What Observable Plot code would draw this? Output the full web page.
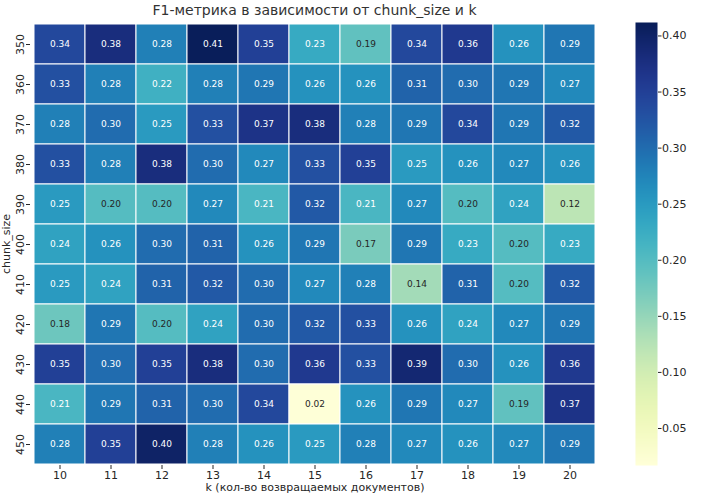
<!DOCTYPE html>
<html><head><meta charset="utf-8">
<script src="https://cdn.jsdelivr.net/npm/d3@7"></script>
<script src="https://cdn.jsdelivr.net/npm/@observablehq/plot@0.6"></script>
<style>
body{margin:0;background:#fff;font-family:"DejaVu Sans",sans-serif;}
#wrap{position:relative;width:706px;height:495px;overflow:hidden;}
#main,#cbar{position:absolute;top:0;}
#main{left:0}
#cbar{left:610px}
#title{position:absolute;top:2px;left:0;width:629px;text-align:center;font-size:14px;color:#333;white-space:nowrap;}
</style></head><body>
<div id="wrap"><div id="main"></div><div id="cbar"></div><div id="title">F1-метрика в зависимости от chunk_size и k</div></div>
<script>
const kValues = [10, 11, 12, 13, 14, 15, 16, 17, 18, 19, 20];
const chunkSizes = [350, 360, 370, 380, 390, 400, 410, 420, 430, 440, 450];
const f1Rows = [
  [0.34, 0.38, 0.28, 0.41, 0.35, 0.23, 0.19, 0.34, 0.36, 0.26, 0.29],
  [0.33, 0.28, 0.22, 0.28, 0.29, 0.26, 0.26, 0.31, 0.30, 0.29, 0.27],
  [0.28, 0.30, 0.25, 0.33, 0.37, 0.38, 0.28, 0.29, 0.34, 0.29, 0.32],
  [0.33, 0.28, 0.38, 0.30, 0.27, 0.33, 0.35, 0.25, 0.26, 0.27, 0.26],
  [0.25, 0.20, 0.20, 0.27, 0.21, 0.32, 0.21, 0.27, 0.20, 0.24, 0.12],
  [0.24, 0.26, 0.30, 0.31, 0.26, 0.29, 0.17, 0.29, 0.23, 0.20, 0.23],
  [0.25, 0.24, 0.31, 0.32, 0.30, 0.27, 0.28, 0.14, 0.31, 0.20, 0.32],
  [0.18, 0.29, 0.20, 0.24, 0.30, 0.32, 0.33, 0.26, 0.24, 0.27, 0.29],
  [0.35, 0.30, 0.35, 0.38, 0.30, 0.36, 0.33, 0.39, 0.30, 0.26, 0.36],
  [0.21, 0.29, 0.31, 0.30, 0.34, 0.02, 0.26, 0.29, 0.27, 0.19, 0.37],
  [0.28, 0.35, 0.40, 0.28, 0.26, 0.25, 0.28, 0.27, 0.26, 0.27, 0.29]
];
const colorDomain = [0.017, 0.412];
const colorTicks = [0.05, 0.10, 0.15, 0.20, 0.25, 0.30, 0.35, 0.40];

const data = chunkSizes.flatMap((c, i) => kValues.map((k, j) => ({chunk: c, k, f1: f1Rows[i][j]})));
const dark = "#262626";
const baseStyle = {fontFamily: "DejaVu Sans", fontSize: "11px", color: dark, background: "white", overflow: "visible"};

const main = Plot.plot({
  width: 620, height: 495,
  marginLeft: 30, marginRight: 21, marginTop: 22, marginBottom: 30,
  style: baseStyle,
  x: {type: "band", domain: kValues, padding: 0},
  y: {type: "band", domain: chunkSizes, padding: 0},
  color: {type: "linear", scheme: "YlGnBu", domain: colorDomain},
  marks: [
    Plot.cell(data, {x: "k", y: "chunk", fill: "f1", stroke: "white", strokeWidth: 1}),
    Plot.text(data.filter(d => d.f1 > 0.205), {x: "k", y: "chunk", text: d => d.f1.toFixed(2), fill: "white", fontSize: 9}),
    Plot.text(data.filter(d => d.f1 <= 0.205), {x: "k", y: "chunk", text: d => d.f1.toFixed(2), fill: dark, fontSize: 9}),
    Plot.axisX({tickSize: 4, tickPadding: 1.5, label: "k (кол-во возвращаемых документов)", labelAnchor: "center", labelArrow: "none", labelOffset: 25}),
    Plot.axisY({tickSize: 4, tickPadding: 3, tickRotate: -90, label: "chunk_size", labelAnchor: "center", labelArrow: "none", labelOffset: 28})
  ]
});
document.getElementById("main").appendChild(main);

const cbar = Plot.plot({
  width: 96, height: 495,
  marginLeft: 25, marginRight: 49, marginTop: 22, marginBottom: 30,
  style: baseStyle,
  x: {domain: [0, 1], axis: null},
  y: {domain: colorDomain},
  color: {type: "linear", scheme: "YlGnBu", domain: colorDomain},
  marks: [
    Plot.raster({fill: (x, y) => y, x1: 0, x2: 1, y1: colorDomain[0], y2: colorDomain[1], pixelSize: 1}),
    Plot.axisY({anchor: "right", ticks: colorTicks, tickFormat: ".2f", tickSize: 3.5, tickPadding: 1, label: null})
  ]
});
document.getElementById("cbar").appendChild(cbar);
</script>
</body></html>
